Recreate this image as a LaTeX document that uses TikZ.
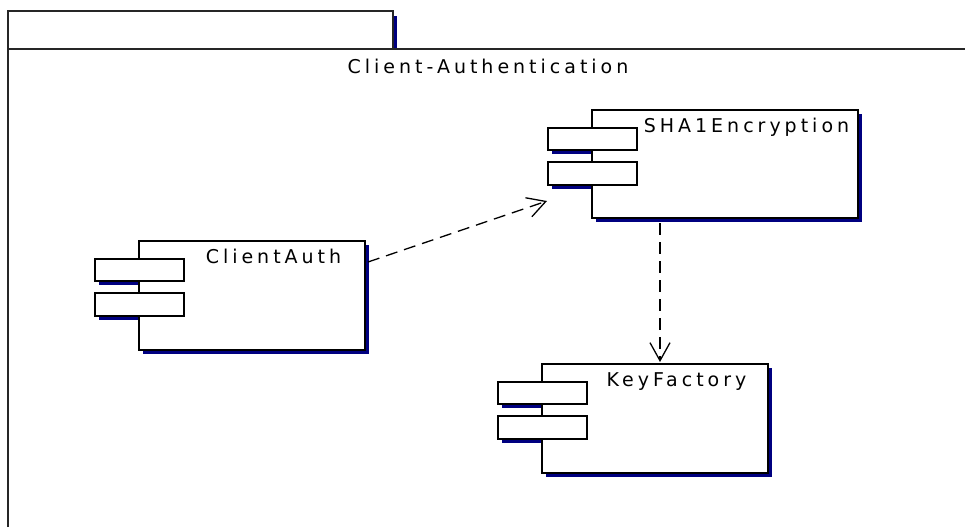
\documentclass[tikz,border=0pt]{standalone}
\usepackage{fontspec}
\setmainfont{DejaVu Sans}[LetterSpace=21]
\usetikzlibrary{arrows.meta}
\definecolor{navy}{RGB}{0,0,128}
\tikzset{
  frameline/.style={line width=1.5pt, draw=black!85},
  boxline/.style={line width=1.5pt, draw=black},
  shade/.style={fill=navy},
  lbl/.style={font=\fontsize{19}{21}\selectfont, inner sep=0pt},
  dep/.style={line width=1.3pt, dash pattern=on 12pt off 7pt, -{Straight Barb[length=18pt,width=20pt,line width=1.3pt]}}
}
% \umlcomp{name}{x}{y}{w}{h}{label}
\newcommand\umlcomp[6]{%
  \fill[shade] ({#2+5},{#3+5}) rectangle ({#2+#4+5},{#3+#5+5});
  \fill[shade] ({#2-39},{#3+18+5}) rectangle ({#2+50},{#3+40+5});
  \fill[shade] ({#2-39},{#3+52+5}) rectangle ({#2+50},{#3+75+5});
  \node[boxline, fill=white, anchor=north west, inner sep=0pt,
        minimum width=#4pt, minimum height=#5pt] (#1) at (#2,#3) {};
  \node[boxline, fill=white, anchor=north west, inner sep=0pt,
        minimum width=89pt, minimum height=22pt] (#1p1) at ({#2-44},{#3+18}) {};
  \node[boxline, fill=white, anchor=north west, inner sep=0pt,
        minimum width=89pt, minimum height=23pt] (#1p2) at ({#2-44},{#3+52}) {};
  \node[lbl, anchor=base] (#1t) at ({(2*#2+45+#4)/2},{#3+23}) {#6};
}
\begin{document}
\begin{tikzpicture}[x=1pt,y=-1pt]
\useasboundingbox (0,0) rectangle (965,527);
% package frame
\fill[shade] (393,16) rectangle (397,49);
\draw[frameline] (8,11) rectangle (393,49);
\draw[frameline] (8,527) -- (8,49) -- (965,49);
\node[lbl, anchor=base] (pkg) at (488,74) {Client-Authentication};
% components
\umlcomp{sha}{591}{109}{266}{108}{SHA1Encryption}
\umlcomp{cauth}{138}{240}{226}{109}{ClientAuth}
\umlcomp{kf}{541}{363}{226}{109}{KeyFactory}
% dependencies
\coordinate (d1s) at (368,262);
\coordinate (d1e) at (547,201);
\coordinate (d2s) at (660,223);
\coordinate (d2e) at (660,362);
\draw[dep] (d1s) -- (d1e);
\draw[dep] (d2s) -- (d2e);
\end{tikzpicture}
\end{document}
